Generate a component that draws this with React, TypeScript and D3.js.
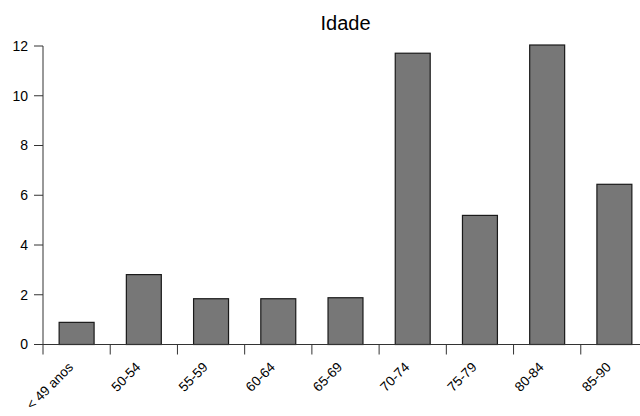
import React from "react";
import * as d3 from "d3";

const categories = ["< 49 anos", "50-54", "55-59", "60-64", "65-69", "70-74", "75-79", "80-84", "85-90"];
const values = [0.89, 2.81, 1.84, 1.84, 1.88, 11.71, 5.19, 12.04, 6.44];
const yTicks = [0, 2, 4, 6, 8, 10, 12];
const title = "Idade";

export default function App() {
  const W = 640, H = 416;
  const x0 = 43, x1 = 648, y0 = 344.5, yTop = 46;
  const x = d3.scaleBand<string>().domain(categories).range([x0, x1]).paddingInner(0).paddingOuter(0);
  const y = d3.scaleLinear().domain([0, 12]).range([y0, yTop]);
  const bw = x.bandwidth();
  const barW = bw * 0.52;
  const font = "'Liberation Sans', Arial, Helvetica, sans-serif";
  const axisColor = "#333";
  return (
    <svg width={W} height={H} style={{ position: "absolute", left: 0, top: 0, background: "#fff" }} fontFamily={font}>
      <text x={(x0 + x1) / 2} y={30} textAnchor="middle" fontSize={20} fill="#000">{title}</text>
      {categories.map((c, i) => {
        const cx = (x(c) as number) + bw / 2;
        return (
          <rect key={c} x={cx - barW / 2} y={y(values[i])} width={barW} height={y0 - y(values[i])}
            fill="#777777" stroke="#1a1a1a" strokeWidth={1.2} />
        );
      })}
      {/* y axis */}
      <line x1={x0} x2={x0} y1={yTop} y2={y0 + 10} stroke={axisColor} strokeWidth={1} />
      {yTicks.map(t => (
        <g key={t}>
          <line x1={x0 - 9} x2={x0} y1={y(t)} y2={y(t)} stroke={axisColor} strokeWidth={1} />
          <text x={x0 - 15} y={y(t)} dy="0.35em" textAnchor="end" fontSize={14} fill="#000">{t}</text>
        </g>
      ))}
      {/* x axis */}
      <line x1={x0} x2={x1} y1={y0} y2={y0} stroke={axisColor} strokeWidth={1} />
      {categories.slice(1).map(c => (
        <line key={c} x1={x(c) as number} x2={x(c) as number} y1={y0} y2={y0 + 10} stroke={axisColor} strokeWidth={1} />
      ))}
      {categories.map(c => {
        const cx = (x(c) as number) + bw / 2 - 2.5;
        const ly = y0 + 23.5;
        return (
          <text key={c} x={cx} y={ly} textAnchor="end" fontSize={13.5} fill="#000"
            transform={`rotate(-45, ${cx}, ${ly})`}>{c}</text>
        );
      })}
    </svg>
  );
}
